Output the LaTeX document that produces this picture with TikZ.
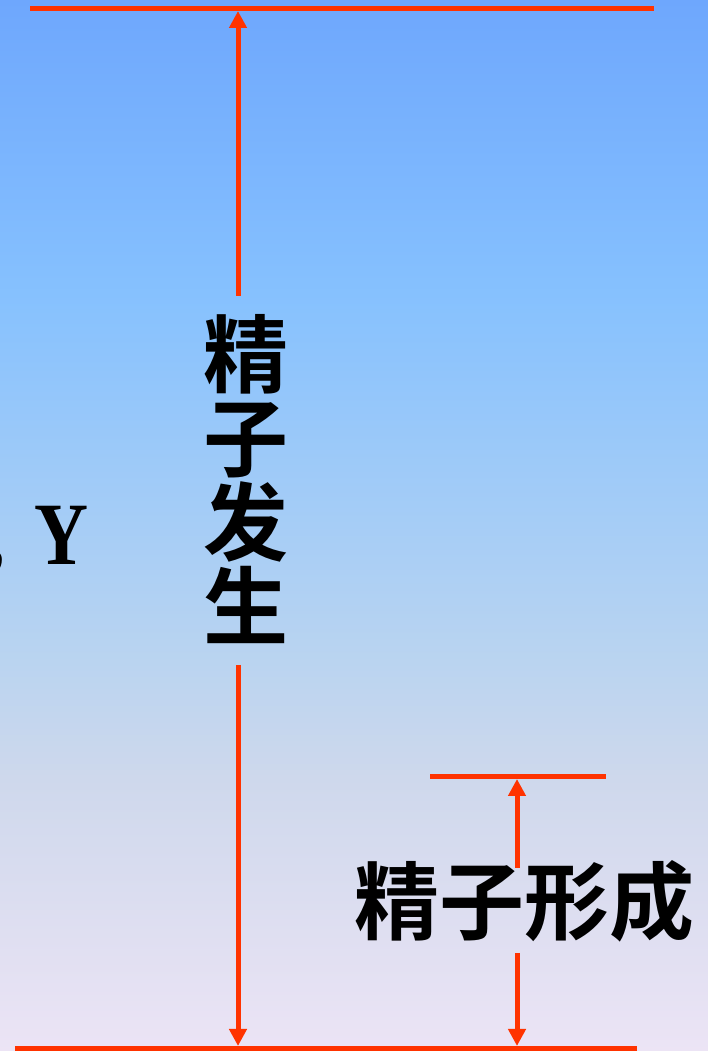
\documentclass[tikz,border=0pt]{standalone}
\usepackage{fontspec}
\newfontfamily\cjk{Noto Sans CJK SC}[BoldFont={Noto Sans CJK SC Bold}]
\newfontfamily\tnr{Liberation Serif}
\usetikzlibrary{arrows.meta}
\definecolor{redline}{RGB}{255,51,0}
\definecolor{bgA}{RGB}{236,228,245}
\definecolor{bgB}{RGB}{206,216,236}
\definecolor{bgC}{RGB}{186,212,240}
\definecolor{bgD}{RGB}{166,205,246}
\definecolor{bgE}{RGB}{134,193,254}
\definecolor{bgF}{RGB}{110,167,253}
\pgfdeclareverticalshading{bgshade}{100bp}{color(0bp)=(bgA); color(25bp)=(bgA); color(38bp)=(bgB); color(43.5bp)=(bgC); color(50bp)=(bgD); color(61bp)=(bgE); color(75bp)=(bgF); color(100bp)=(bgF)}
\tikzset{
  bar/.style={draw=redline, line width=5pt},
  arr/.style={draw=redline, line width=5pt, -{Triangle[width=17pt,length=17pt]}},
  cjktext/.style={font=\cjk\bfseries\fontsize{85}{84}\selectfont, inner sep=0pt, align=center},
  latin/.style={font=\tnr\bfseries\fontsize{89}{89}\selectfont, inner sep=0pt, xscale=0.84}
}
\begin{document}
\begin{tikzpicture}[x=1pt,y=1pt]
\useasboundingbox (0,0) rectangle (708,1051);
\fill[shading=bgshade] (0,0) rectangle (708,1051);
% horizontal bars
\coordinate (tl) at (30,1042.5);
\coordinate (tr) at (654,1042.5);
\coordinate (bl) at (15,2.5);
\coordinate (br) at (637,2.5);
\coordinate (sl) at (430,274.5);
\coordinate (sr) at (606,274.5);
\draw[bar] (tl) -- (tr);
\draw[bar] (bl) -- (br);
\draw[bar] (sl) -- (sr);
% texts
\node[cjktext] (gen) at (246,572) {精\\子\\发\\生};
\node[cjktext] (form) at (524,149.5) {精子形成};
\node[latin, anchor=base east] (comma) at (5.5,486) {,};
\node[latin, anchor=base west] (y) at (34,486) {Y};
% arrow end points
\coordinate (genTop) at (238,755);
\coordinate (genTopEnd) at (238,1040);
\coordinate (genBot) at (238,386);
\coordinate (genBotEnd) at (238,5);
\coordinate (formTop) at (517,183);
\coordinate (formTopEnd) at (517,272);
\coordinate (formBot) at (517,98);
\coordinate (formBotEnd) at (517,5);
\draw[arr] (genTop) -- (genTopEnd);
\draw[arr] (genBot) -- (genBotEnd);
\draw[arr] (formTop) -- (formTopEnd);
\draw[arr] (formBot) -- (formBotEnd);
\end{tikzpicture}
\end{document}
